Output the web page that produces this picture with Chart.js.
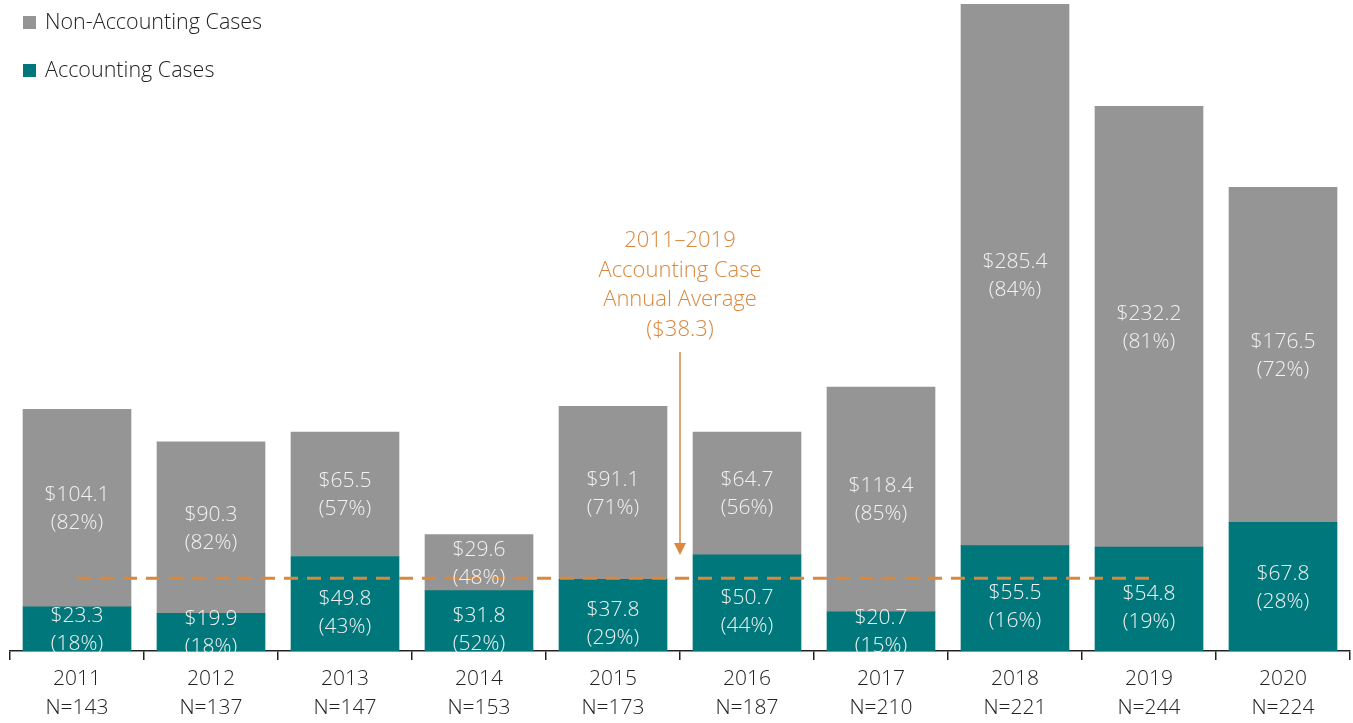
<!DOCTYPE html>
<html>
<head>
<meta charset="utf-8">
<script src="https://cdn.jsdelivr.net/npm/chart.js@4"></script>
<style>
  html, body { margin: 0; padding: 0; background: #fff; overflow: hidden; }
  canvas { display: block; }
</style>
</head>
<body>
<canvas id="chart" width="1353" height="723"></canvas>
<script>
const years = ["2011", "2012", "2013", "2014", "2015", "2016", "2017", "2018", "2019", "2020"];
const caseCounts = [143, 137, 147, 153, 173, 187, 210, 221, 244, 224];
const accountingValues = [23.3, 19.9, 49.8, 31.8, 37.8, 50.7, 20.7, 55.5, 54.8, 67.8];
const accountingPct = [18, 18, 43, 52, 29, 44, 15, 16, 19, 28];
const nonAccountingValues = [104.1, 90.3, 65.5, 29.6, 91.1, 64.7, 118.4, 285.4, 232.2, 176.5];
const nonAccountingPct = [82, 82, 57, 48, 71, 56, 85, 84, 81, 72];
const averageValue = 38.3;
const averageYears = ["2011", "2012", "2013", "2014", "2015", "2016", "2017", "2018", "2019"];

const FONT = "'Open Sans', sans-serif";
const GRAY = "#959595";
const TEAL = "#00787B";
const ORANGE = "#D9883E";

const averageLine = years.map(y => averageYears.includes(y) ? averageValue : null);

// labels centred inside each bar segment; accounting labels under the
// average line get nudged down a little so the dashes don't cross them
const segmentLabels = {
  id: "segmentLabels",
  afterDatasetsDraw(chart) {
    const ctx = chart.ctx;
    ctx.save();
    ctx.font = "300 21px " + FONT;
    ctx.fillStyle = "#f2f2f2";
    ctx.textAlign = "center";
    ctx.textBaseline = "middle";
    [[0, accountingValues, accountingPct], [1, nonAccountingValues, nonAccountingPct]].forEach(([di, vals, pcts]) => {
      chart.getDatasetMeta(di).data.forEach((bar, i) => {
        let cy = (bar.y + bar.base) / 2 + 1;
        if (di === 0 && averageYears.includes(years[i]) && bar.base - bar.y > 50) cy += 8;
        ctx.fillText("$" + vals[i].toFixed(1), bar.x, cy - 14);
        ctx.fillText("(" + pcts[i] + "%)", bar.x, cy + 14);
      });
    });
    ctx.restore();
  }
};

// legend in the top-left corner and the average annotation with arrow
const extras = {
  id: "extras",
  afterDraw(chart) {
    const ctx = chart.ctx;
    const x = chart.scales.x;
    ctx.save();
    ctx.font = "300 21.5px " + FONT;
    ctx.textBaseline = "middle";
    ctx.textAlign = "left";
    [["Non-Accounting Cases", GRAY, 22], ["Accounting Cases", TEAL, 70]].forEach(([txt, col, ly]) => {
      ctx.fillStyle = col;
      ctx.fillRect(23, ly - 6, 13, 13);
      ctx.fillStyle = "#222";
      ctx.fillText(txt, 45, ly + 1);
    });

    const ax = (x.getPixelForValue(4) + x.getPixelForValue(5)) / 2;
    ctx.font = "300 22px " + FONT;
    ctx.fillStyle = ORANGE;
    ctx.textAlign = "center";
    ["2011\u20132019", "Accounting Case", "Annual Average", "($38.3)"].forEach((t, i) => {
      ctx.fillText(t, ax, 241 + i * 29.5);
    });
    ctx.strokeStyle = ORANGE;
    ctx.lineWidth = 1.5;
    ctx.beginPath();
    ctx.moveTo(ax, 352);
    ctx.lineTo(ax, 545);
    ctx.stroke();
    ctx.beginPath();
    ctx.moveTo(ax - 6, 543);
    ctx.lineTo(ax + 6, 543);
    ctx.lineTo(ax, 555);
    ctx.closePath();
    ctx.fill();
    ctx.restore();
  }
};

const ctx = document.querySelector("#chart").getContext("2d");
const myChart = new Chart(ctx, {
  type: "bar",
  data: {
    labels: years.map((y, i) => [y, "N=" + caseCounts[i]]),
    datasets: [
      {
        label: "Accounting Cases",
        data: accountingValues,
        backgroundColor: TEAL,
        stack: "cases",
        barThickness: 108,
        order: 2
      },
      {
        label: "Non-Accounting Cases",
        data: nonAccountingValues,
        backgroundColor: GRAY,
        stack: "cases",
        barThickness: 108,
        order: 2
      },
      {
        type: "line",
        label: "Average",
        data: averageLine,
        stack: "avg",
        borderColor: ORANGE,
        borderWidth: 3,
        borderDash: [14, 9],
        pointRadius: 0,
        fill: false,
        spanGaps: false,
        order: 1
      }
    ]
  },
  options: {
    responsive: false,
    animation: false,
    devicePixelRatio: 1,
    layout: { padding: { left: 10, right: 3, top: 4, bottom: 0 } },
    plugins: {
      legend: { display: false },
      tooltip: { enabled: false }
    },
    scales: {
      x: {
        stacked: true,
        grid: {
          display: true,
          offset: true,
          drawOnChartArea: false,
          drawTicks: true,
          tickLength: 9,
          color: "#222",
          lineWidth: 1.5
        },
        border: { display: true, color: "#222", width: 1.5 },
        ticks: {
          color: "#222",
          font: { family: FONT, size: 21, weight: 300, lineHeight: 1.38 },
          padding: 5,
          maxRotation: 0,
          autoSkip: false
        },
        afterFit(scale) { scale.height = 72; }
      },
      y: {
        stacked: true,
        display: false,
        min: 0,
        max: 340.9
      }
    }
  },
  plugins: [segmentLabels, extras]
});
</script>
</body>
</html>
